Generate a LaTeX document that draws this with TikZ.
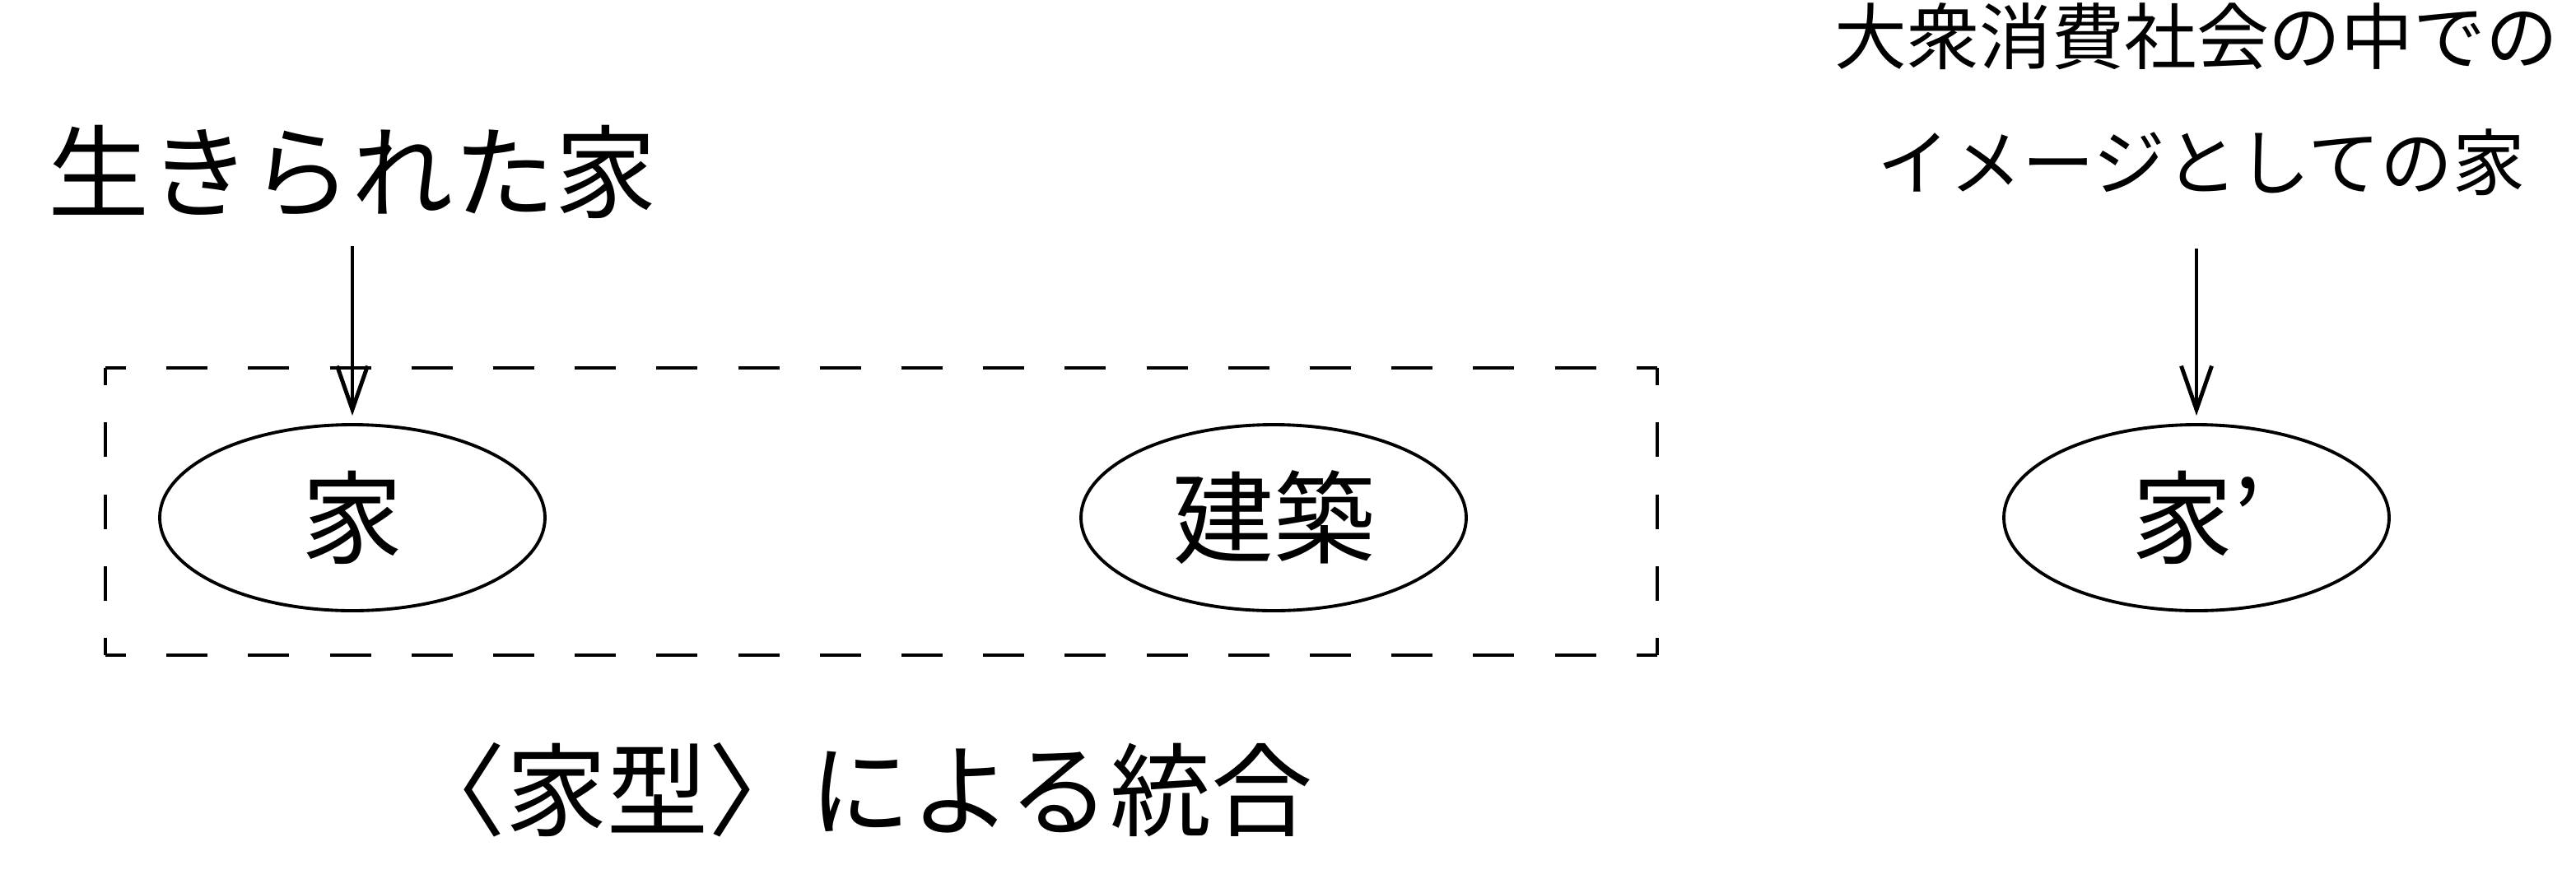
\documentclass[tikz,border=0pt]{standalone}
\usepackage{fontspec}
\setmainfont{Noto Sans CJK JP}
\usetikzlibrary{arrows.meta}
\usetikzlibrary{shapes.geometric}
\tikzstyle{oval}=[ellipse, draw, line width=1.1pt, minimum width=4.68cm, minimum height=2.26cm, inner sep=0pt, font=\fontsize{35}{40}\selectfont]
\tikzstyle{biglabel}=[inner sep=0pt, font=\fontsize{35}{40}\selectfont]
\tikzstyle{smalllabel}=[inner sep=0pt, font=\fontsize{25}{30}\selectfont]
\tikzstyle{hdash}=[line width=1.2pt, dash pattern=on 0.5cm off 0.492cm, dash phase=0.25cm]
\tikzstyle{vdash}=[line width=1.2pt, dash pattern=on 0.42cm off 0.4525cm, dash phase=0.21cm]
\tikzset{>={Straight Barb[length=5.3mm, width=3.7mm]}}

\begin{document}
\begin{tikzpicture}
\useasboundingbox (0,0) rectangle (31.29,10.84);

\node[biglabel] (lived) at (4.28, 8.75) {生きられた家};
\node[smalllabel] (mass1) at (26.68, 10.40) {大衆消費社会の中での};
\node[smalllabel] (mass2) at (26.74, 8.87) {イメージとしての家};

\node[oval] (ie) at (4.28, 4.55) {家};
\node[oval] (kenchiku) at (15.47, 4.55) {建築};
\node[oval] (ie2) at (26.68, 4.55) {家’};

% dashed frame, one side at a time
\coordinate (bl) at (1.28, 2.88);
\coordinate (tr) at (20.13, 6.37);
\draw[hdash] (bl |- tr) -- (tr);
\draw[hdash] (bl) -- (bl -| tr);
\draw[vdash] (bl) -- (bl |- tr);
\draw[vdash] (bl -| tr) -- (tr);

\node[biglabel] (unify) at (10.43, 1.24) {〈家型〉による統合};

\draw[->, line width=1.4pt, shorten <=0.33cm, shorten >=0.09cm] (lived.south -| ie.north) -- (ie.north);
\draw[->, line width=1.4pt, shorten <=0.64cm, shorten >=0.09cm] (mass2.south -| ie2.north) -- (ie2.north);

\end{tikzpicture}
\end{document}
